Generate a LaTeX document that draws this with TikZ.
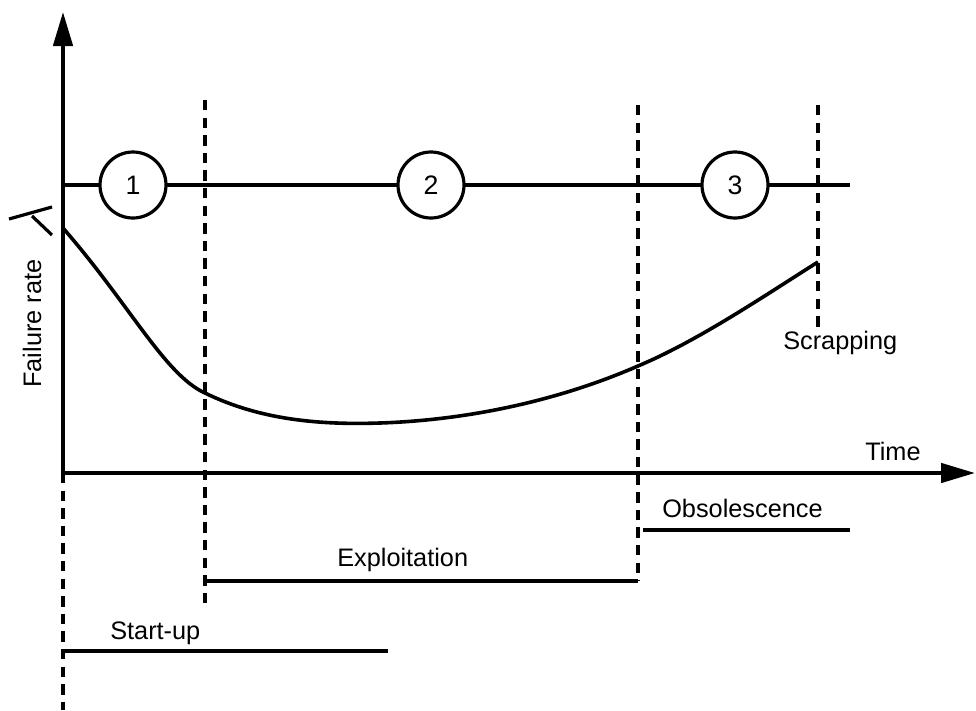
\documentclass[tikz,border=0pt]{standalone}
\usepackage{fontspec}
\setmainfont{Liberation Sans}
\usetikzlibrary{arrows.meta}

\tikzset{
  axis/.style={line width=1mm,-{Triangle[length=8.5mm,width=4.8mm]}},
  stage/.style={circle,draw,fill=white,line width=0.8mm,minimum size=16.5mm,inner sep=0pt,
    font=\fontsize{19}{22}\selectfont},
  limit/.style={line width=0.8mm,dash pattern=on 2.6mm off 1.8mm},
  span/.style={line width=0.8mm},
  lbl/.style={inner sep=0pt,anchor=base west},
}

\begin{document}
\begin{tikzpicture}[x=0.25mm,y=-0.25mm,font=\fontsize{18}{21}\selectfont] % one px of the picture = 0.25mm

\useasboundingbox (0,0) rectangle (976,710);
% axes
\coordinate (O) at (63,473);
\coordinate (ytop) at (63,12);
\coordinate (xend) at (975,473);
\draw[axis] (O) -- (ytop);
\draw[axis] (O) -- (xend);
\node[lbl,rotate=90] (frate) at (41,388) {Failure rate};
\node[lbl] (time) at (865,460) {Time};
% mark at the top of the curve
\draw[line width=0.8mm] (9,219) -- (52,207) (32,216) -- (52,235);

% the three stages
\coordinate (sa) at (63,185);
\coordinate (sb) at (850,185);
\draw[span] (sa) -- (sb);
\node[stage] (s1) at (133,185) {1};
\node[stage] (s2) at (431,185) {2};
\node[stage] (s3) at (735,185) {3};

% limits between the stages
\foreach \n/\x/\top/\bot in {a/205/100/605, b/638/105/581, c/818/105/327} {
  \coordinate (\n top) at (\x,\top);
  \coordinate (\n bot) at (\x,\bot);
  \draw[limit] (\n top) -- (\n bot);
}
\coordinate (obot) at (63,710);
\draw[limit] (O) -- (obot);

% failure rate curve
\draw[line width=0.9mm] (63,228) .. controls (130,305) and (165,375) .. (205,393)
  .. controls (260,420) and (320,425) .. (380,423)
  .. controls (470,420) and (560,400) .. (638,366)
  .. controls (700,340) and (770,292) .. (818,262);
\node[lbl] (scrap) at (783,349) {Scrapping};

% periods
\coordinate (st1) at (63,651);
\coordinate (st2) at (388,651);
\draw[span] (st1) -- (st2);
\node[lbl] (start) at (110,639) {Start-up};
\coordinate (ex1) at (205,581);
\coordinate (ex2) at (638,581);
\draw[span] (ex1) -- (ex2);
\node[lbl] (expl) at (337,566) {Exploitation};
\coordinate (ob1) at (643,530);
\coordinate (ob2) at (850,530);
\draw[span] (ob1) -- (ob2);
\node[lbl] (obs) at (662,517) {Obsolescence};
\end{tikzpicture}
\end{document}
